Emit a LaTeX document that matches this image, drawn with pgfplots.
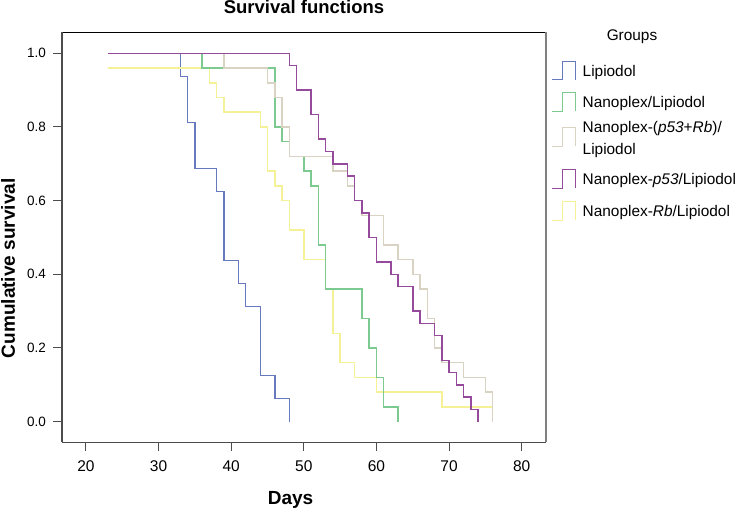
\documentclass[border=0pt]{standalone}
\usepackage{fontspec}
\setmainfont{Liberation Sans}
\usepackage{pgfplots}
\pgfplotsset{compat=1.18}

\definecolor{cBlue}{RGB}{104,122,190}
\definecolor{cGreen}{RGB}{124,202,144}
\definecolor{cBeige}{RGB}{216,211,194}
\definecolor{cPurple}{RGB}{150,74,156}
\definecolor{cYellow}{RGB}{244,241,150}

\begin{document}
\begin{tikzpicture}
\useasboundingbox (0,0) rectangle (739bp,509bp);
\begin{axis}[
  at={(62bp,66.7bp)}, anchor=south west,
  scale only axis, width=484bp, height=410bp,
  xmin=16.7, xmax=83.35, ymin=-0.056, ymax=1.057,
  clip=false,
  xtick={20,30,40,50,60,70,80},
  ytick={0,0.2,0.4,0.6,0.8,1},
  xtick pos=bottom, ytick pos=left, tick align=outside,
  major tick length=8.5bp,
  tick style={color=black!70, line width=1bp},
  axis line style={draw=none},
  /pgf/number format/assume math mode=true,
  xticklabel style={font=\fontsize{15.5bp}{18bp}\selectfont, yshift=-6bp},
  yticklabel style={font=\fontsize{13.5bp}{16bp}\selectfont, xshift=-4bp,
    /pgf/number format/.cd, fixed, fixed zerofill, precision=1},
  title={Survival functions},
  title style={font=\bfseries\fontsize{18.5bp}{22bp}\selectfont,
    at={(axis description cs:0.5,1.0459)}, anchor=base, yshift=-6.5bp},
  xlabel={Days},
  xlabel style={font=\bfseries\fontsize{19bp}{22bp}\selectfont,
    at={(axis description cs:0.4721,-0.1505)}, anchor=base},
  ylabel={Cumulative survival},
  ylabel style={font=\bfseries\fontsize{19bp}{22bp}\selectfont,
    at={(axis description cs:-0.0971,0.4244)}, anchor=base, rotate=0},
  legend style={at={(axis description cs:1.0118,0.9312)}, anchor=north west,
    draw=none, fill=none, inner sep=0pt, outer sep=0pt,
    row sep=0pt,
    nodes={inner sep=0pt, anchor=base west},
    /tikz/every odd column/.append style={column sep=6.7bp},
    font=\fontsize{15.4bp}{18.5bp}\selectfont},
  legend image code/.code={\draw[#1, line width=1bp] (0bp,-3.3bp) -- (10bp,-3.3bp) -- (10bp,15.3bp) -- (23.3bp,15.3bp) -- (23.3bp,-3.3bp);},
]
% legend entries (order as in reference)
\addlegendimage{cBlue}
\addlegendentry[anchor=base west, text height=15.5bp, text depth=15.7bp]{Lipiodol}
\addlegendimage{cGreen}
\addlegendentry[anchor=base west, text height=15.5bp, text depth=8.8bp]{Nanoplex/Lipiodol}
\addlegendimage{cBeige, yshift=-11bp}
\addlegendentry[anchor=base west, text height=15.5bp, text depth=36.8bp]{\begin{tabular}[t]{@{}l@{}}Nanoplex-(\textit{p53}+\textit{Rb})/\\[3.8bp]Lipiodol\end{tabular}}
\addlegendimage{cPurple}
\addlegendentry[anchor=base west, text height=15.5bp, text depth=16.2bp]{Nanoplex-\textit{p53}/Lipiodol}
\addlegendimage{cYellow}
\addlegendentry[anchor=base west, text height=15.5bp, text depth=5bp]{Nanoplex-\textit{Rb}/Lipiodol}

% Lipiodol
\addplot[cBlue, line width=1.5bp, const plot, forget plot] coordinates {
(23,1) (33,0.9375) (34,0.8125) (35,0.6875) (38,0.625) (39,0.4375)
(41,0.375) (42,0.3125) (44,0.125) (46,0.0625) (48,0)};
% Nanoplex-Rb/Lipiodol
\addplot[cYellow, line width=1.5bp, const plot, forget plot] coordinates {
(23,0.96) (37,0.92) (38,0.88) (39,0.84) (44,0.80) (45,0.68) (46,0.64)
(47,0.60) (48,0.52) (50,0.44) (53,0.36) (54,0.24) (55,0.16) (57,0.12)
(60,0.08) (69,0.04) (76,0)};
% Nanoplex/Lipiodol
\addplot[cGreen, line width=1.5bp, const plot, forget plot] coordinates {
(23,1) (36,0.96) (46,0.80) (47,0.76) (48,0.72) (50,0.68) (51,0.64)
(52,0.48) (53,0.36) (58,0.28) (59,0.20) (60,0.12) (61,0.04) (63,0)};
% Nanoplex-(p53+Rb)/Lipiodol
\addplot[cBeige, line width=1.5bp, const plot, forget plot] coordinates {
(23,1) (39,0.96) (45,0.92) (46,0.88) (47,0.80) (48,0.72) (54,0.68)
(56,0.64) (57,0.60) (58,0.56) (61,0.48) (63,0.44) (65,0.40) (66,0.36)
(67,0.28) (68,0.20) (69,0.16) (72,0.12) (75,0.08) (76,0)};
% Nanoplex-p53/Lipiodol
\addplot[cPurple, line width=1.5bp, const plot, forget plot] coordinates {
(23,1) (48,0.9667) (49,0.9) (51,0.8333) (52,0.7667) (53,0.7333) (54,0.7)
(56,0.6667) (57,0.6) (58,0.5667) (59,0.5) (60,0.4333) (62,0.4) (63,0.3667)
(65,0.3) (66,0.2667) (68,0.2333) (69,0.1667) (70,0.1333) (71,0.1)
(72,0.0667) (73,0.0333) (74,0)};

% frame
\draw[black, line width=0.9bp] (rel axis cs:0,1) -- (rel axis cs:1,1);
\draw[black!70, line width=1.2bp] (rel axis cs:0,0) -- (rel axis cs:0,1);
\draw[black!70, line width=1.2bp] (rel axis cs:0,0) -- (rel axis cs:1,0);
\draw[black!50, line width=2bp] (rel axis cs:1,0) -- (rel axis cs:1,1);
\end{axis}
\node[anchor=base, font=\fontsize{15.4bp}{18.5bp}\selectfont] at (632bp,468.3bp) {Groups};
\end{tikzpicture}
\end{document}
